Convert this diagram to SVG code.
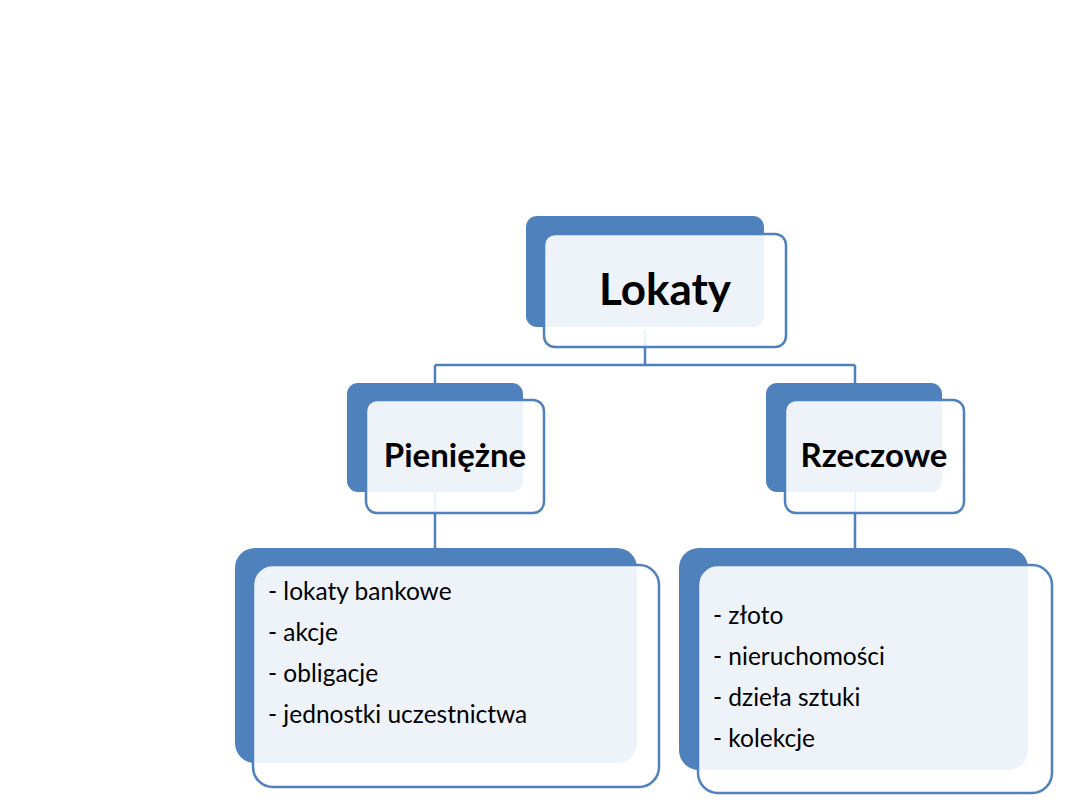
<svg xmlns="http://www.w3.org/2000/svg" width="1080" height="810" viewBox="0 0 1080 810">
<style>
.back{fill:#4F81BD}
.front{fill:#FFFFFF;fill-opacity:0.9;stroke:#4F81BD;stroke-width:2.5}
.conn{fill:none;stroke:#4F81BD;stroke-width:2.5}
.title{font-family:Lato,"Open Sans",sans-serif;font-weight:bold;fill:#000;text-anchor:middle}
.item{font-family:Lato,"Open Sans",sans-serif;font-size:24.5px;fill:#000}
</style>
<rect width="1080" height="810" fill="#FFFFFF"/>
<g id="connectors">
<path class="conn" d="M645 330 V365 M435 365 H855 M435 365 V385 M855 365 V385 M435 490 V550 M855 490 V550"/>
</g>
<g id="lokaty">
<rect class="back" x="526" y="216" width="238" height="111" rx="11"/>
<rect class="front" x="544" y="234" width="242" height="113" rx="11"/>
<text class="title" x="665" y="305" font-size="44">Lokaty</text>
</g>
<g id="pieniezne">
<rect class="back" x="347" y="383" width="176" height="109" rx="11"/>
<rect class="front" x="366" y="400" width="178" height="113" rx="11"/>
<text class="title" x="455" y="467" font-size="33">Pieniężne</text>
</g>
<g id="rzeczowe">
<rect class="back" x="766" y="383" width="176" height="109" rx="11"/>
<rect class="front" x="785" y="400" width="179" height="113" rx="11"/>
<text class="title" x="874" y="467" font-size="33">Rzeczowe</text>
</g>
<g id="pieniezne-list">
<rect class="back" x="235" y="548" width="402" height="215" rx="20"/>
<rect class="front" x="253" y="565" width="406" height="222" rx="20"/>
<text class="item" x="268" y="600">- lokaty bankowe</text>
<text class="item" x="268" y="641">- akcje</text>
<text class="item" x="268" y="682">- obligacje</text>
<text class="item" x="268" y="723">- jednostki uczestnictwa</text>
</g>
<g id="rzeczowe-list">
<rect class="back" x="679" y="548" width="349" height="222" rx="20"/>
<rect class="front" x="698" y="565" width="354" height="228" rx="20"/>
<text class="item" x="713" y="624">- złoto</text>
<text class="item" x="713" y="665">- nieruchomości</text>
<text class="item" x="713" y="706">- dzieła sztuki</text>
<text class="item" x="713" y="747">- kolekcje</text>
</g>
</svg>
